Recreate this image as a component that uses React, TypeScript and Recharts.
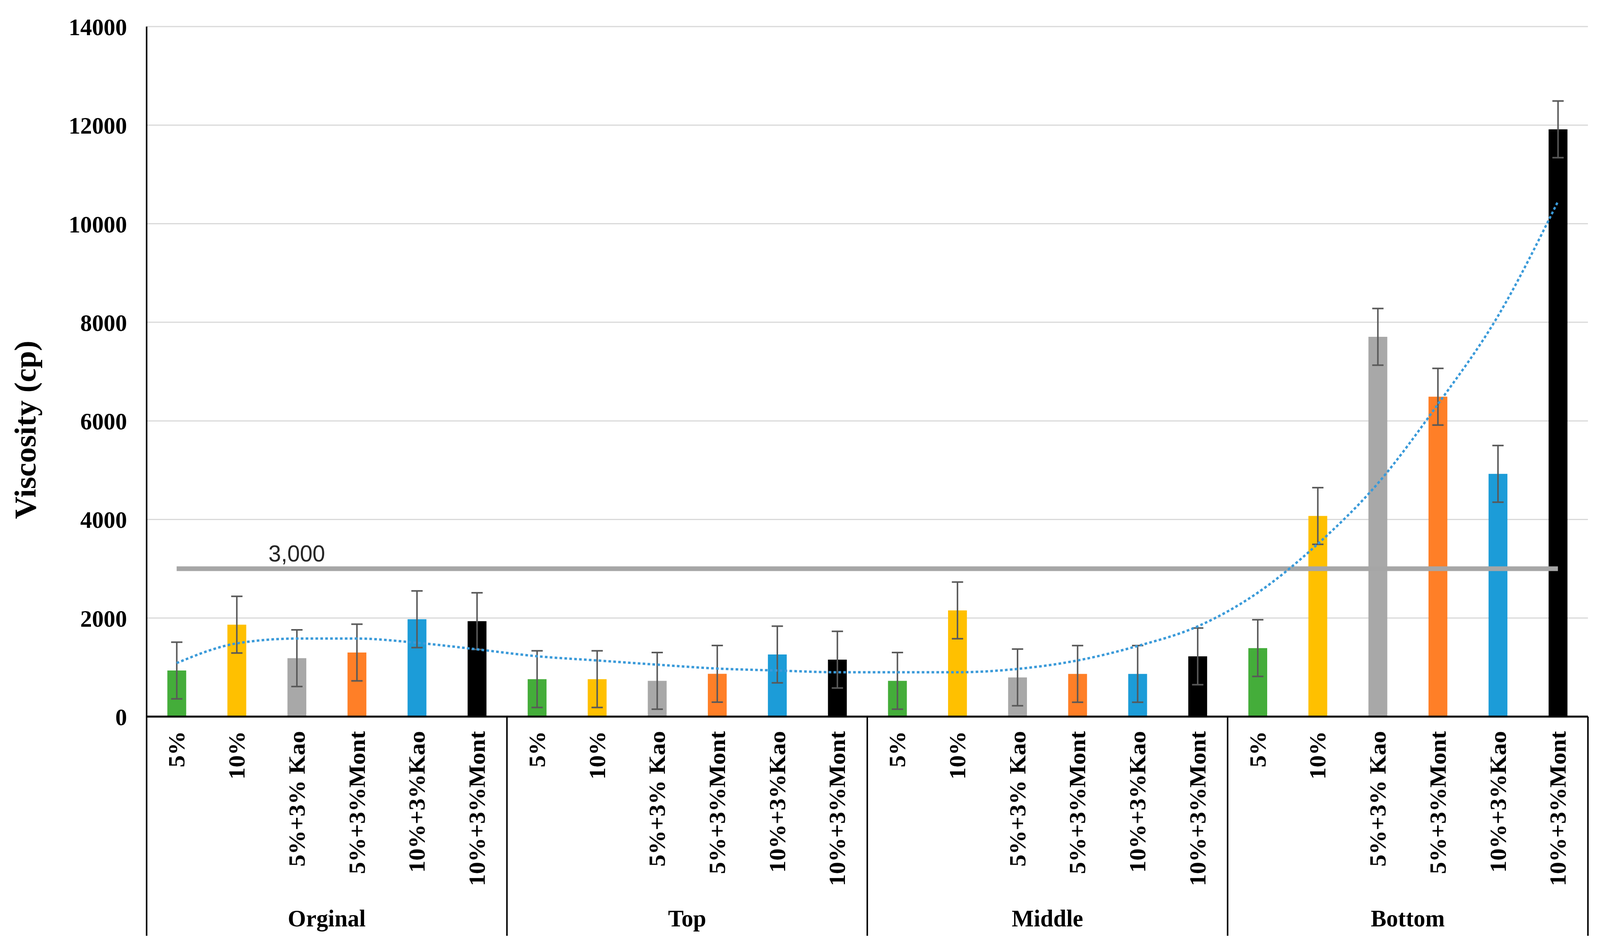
import React from "react";
import { ComposedChart, Bar, Line, XAxis, YAxis, CartesianGrid, ErrorBar, Cell, LabelList } from "recharts";

// categories
const groups = ["Orginal", "Top", "Middle", "Bottom"];
const mixes = ["5%", "10%", "5%+3% Kao", "5%+3%Mont", "10%+3%Kao", "10%+3%Mont"];

// viscosity (cp)
const originalValues = [935, 1865, 1185, 1300, 1975, 1937];
const topValues = [760, 760, 725, 868, 1260, 1155];
const middleValues = [725, 2155, 795, 866, 866, 1222];
const bottomValues = [1390, 4070, 7705, 6490, 4925, 11915];

// error bar half-heights
const originalErrors = [575, 575, 575, 575, 575, 575];
const topErrors = [575, 575, 575, 575, 575, 575];
const middleErrors = [575, 575, 575, 575, 575, 575];
const bottomErrors = [575, 575, 575, 575, 575, 575];

// dotted trend line, read at each category
const originalTrend = [1086, 1485, 1583, 1583, 1498, 1365];
const topTrend = [1225, 1139, 1054, 975, 935, 900];
const middleTrend = [900, 900, 967, 1139, 1432, 1830];
const bottomTrend = [2512, 3502, 4730, 6335, 8123, 10450];

const limitValue = 3000;
const limitLabelIndex = 2;
const yTicks = [0, 2000, 4000, 6000, 8000, 10000, 12000, 14000];

const valuesByGroup = [originalValues, topValues, middleValues, bottomValues];
const errorsByGroup = [originalErrors, topErrors, middleErrors, bottomErrors];
const trendByGroup = [originalTrend, topTrend, middleTrend, bottomTrend];

const data = groups.flatMap((g, gi) =>
  mixes.map((m, mi) => ({
    key: `${g}-${m}`,
    name: m,
    group: g,
    viscosity: valuesByGroup[gi][mi],
    err: errorsByGroup[gi][mi],
    trend: trendByGroup[gi][mi],
    limit: limitValue,
  }))
);

const barColors = ["#44AD3A", "#FFC000", "#A8A8A8", "#FF7F27", "#1C9CD8", "#000000"];

const W = 4245;
const H = 2416;
const MARGIN = { top: 68, right: 32, bottom: 0, left: 0 };
const YAXIS_W = 389;
const XAXIS_H = 582;
const BAND = (W - YAXIS_W - MARGIN.left - MARGIN.right) / data.length;
const SERIF = "'Liberation Serif', 'Times New Roman', serif";

const CategoryTick = (props: any) => {
  const { x, y, index } = props;
  const item = data[index];
  if (!item) return null;
  const perGroup = mixes.length;
  const pos = index % perGroup;
  const ly = y + 37;
  return (
    <g>
      <text
        x={x}
        y={ly}
        transform={`rotate(-90, ${x}, ${ly})`}
        textAnchor="end"
        dominantBaseline="central"
        fontFamily={SERIF}
        fontWeight="bold"
        fontSize={62}
        fill="#000"
      >
        {item.name}
      </text>
      {pos === 0 && (
        <line x1={x - BAND / 2} x2={x - BAND / 2} y1={y} y2={y + 561} stroke="#000" strokeWidth={4} />
      )}
      {index === data.length - 1 && (
        <line x1={x + BAND / 2} x2={x + BAND / 2} y1={y} y2={y + 561} stroke="#000" strokeWidth={4} />
      )}
      {pos === perGroup / 2 - 1 && (
        <text
          x={x + BAND / 2}
          y={y + 537}
          textAnchor="middle"
          fontFamily={SERIF}
          fontWeight="bold"
          fontSize={62}
          fill="#000"
        >
          {item.group}
        </text>
      )}
    </g>
  );
};

const LimitLabel = (props: any) => {
  const { x, y, index, value } = props;
  if (index !== limitLabelIndex) return null;
  return (
    <text
      x={x}
      y={y - 19}
      textAnchor="middle"
      fontFamily="'Liberation Sans', Arial, sans-serif"
      fontSize={60}
      fill="#262626"
    >
      {Number(value).toLocaleString("en-US")}
    </text>
  );
};

export default function App() {
  // the browser viewport is narrower than the reference, so squeeze horizontally to fit
  const vw = typeof window !== "undefined" ? window.innerWidth : W;
  const sx = Math.min(1, vw / W);
  return (
    <div
      style={{
        position: "absolute",
        left: 0,
        top: 0,
        width: W,
        height: H,
        background: "#fff",
        transform: `scale(${sx}, 1)`,
        transformOrigin: "0 0",
      }}
    >
      <ComposedChart width={W} height={H} data={data} margin={MARGIN}>
        <CartesianGrid vertical={false} stroke="#D9D9D9" strokeWidth={3} />
        <XAxis
          dataKey="key"
          interval={0}
          height={XAXIS_H}
          tickLine={false}
          tickSize={0}
          tickMargin={0}
          axisLine={{ stroke: "#000", strokeWidth: 5 }}
          tick={<CategoryTick />}
        />
        <YAxis
          width={YAXIS_W}
          domain={[0, 14000]}
          ticks={yTicks}
          tickLine={false}
          tickSize={0}
          tickMargin={52}
          axisLine={{ stroke: "#000", strokeWidth: 4 }}
          tick={{ fontFamily: SERIF, fontWeight: "bold", fontSize: 62, fill: "#000" }}
          label={{
            content: () => (
              <text
                x={67}
                y={1100}
                transform="rotate(-90, 67, 1100)"
                textAnchor="middle"
                dominantBaseline="central"
                fontFamily={SERIF}
                fontWeight="bold"
                fontSize={80}
                fill="#000"
              >
                Viscosity (cp)
              </text>
            ),
          }}
        />
        <Bar dataKey="viscosity" barSize={50} isAnimationActive={false}>
          {data.map((d, i) => (
            <Cell key={d.key} fill={barColors[i % barColors.length]} />
          ))}
          <ErrorBar dataKey="err" direction="y" width={15} stroke="#595959" strokeWidth={4} />
        </Bar>
        <Line
          dataKey="limit"
          type="linear"
          stroke="#A6A6A6"
          strokeWidth={12}
          dot={false}
          activeDot={false}
          isAnimationActive={false}
        >
          <LabelList dataKey="limit" content={<LimitLabel />} />
        </Line>
        <Line
          dataKey="trend"
          type="monotone"
          stroke="#3A9AD9"
          strokeWidth={6}
          strokeDasharray="7 6"
          dot={false}
          activeDot={false}
          isAnimationActive={false}
        />
      </ComposedChart>
    </div>
  );
}
